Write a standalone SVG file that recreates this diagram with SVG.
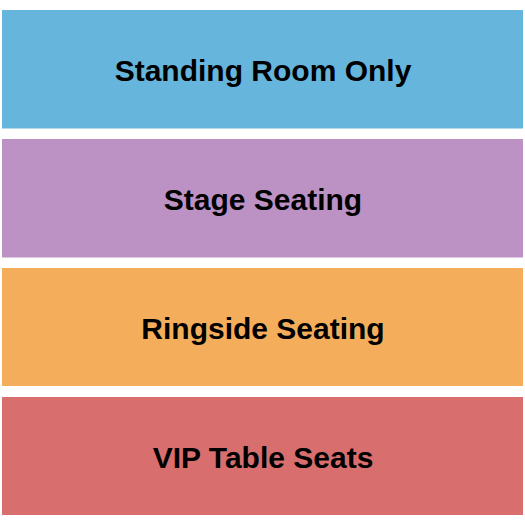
<svg xmlns="http://www.w3.org/2000/svg" width="525" height="525" viewBox="0 0 525 525">
<style>
.sec{stroke:none}
.lbl{font-family:"Liberation Sans",Arial,sans-serif;font-weight:bold;font-size:30px;fill:#000;text-anchor:middle}
</style>
<rect width="525" height="525" fill="#fff"/>
<g id="standing-room-only">
<rect class="sec" x="2" y="10" width="521" height="118.5" fill="#66b5dc"/>
<text class="lbl" x="263" y="81">Standing Room Only</text>
</g>
<g id="stage-seating">
<rect class="sec" x="2" y="139" width="521" height="118.5" fill="#bc91c4"/>
<text class="lbl" x="263" y="210">Stage Seating</text>
</g>
<g id="ringside-seating">
<rect class="sec" x="2" y="268" width="521" height="118" fill="#f4ae5b"/>
<text class="lbl" x="263" y="339">Ringside Seating</text>
</g>
<g id="vip-table-seats">
<rect class="sec" x="2" y="397" width="521" height="118" fill="#d86f6e"/>
<text class="lbl" x="263" y="468">VIP Table Seats</text>
</g>
<g id="connectors"></g>
</svg>
